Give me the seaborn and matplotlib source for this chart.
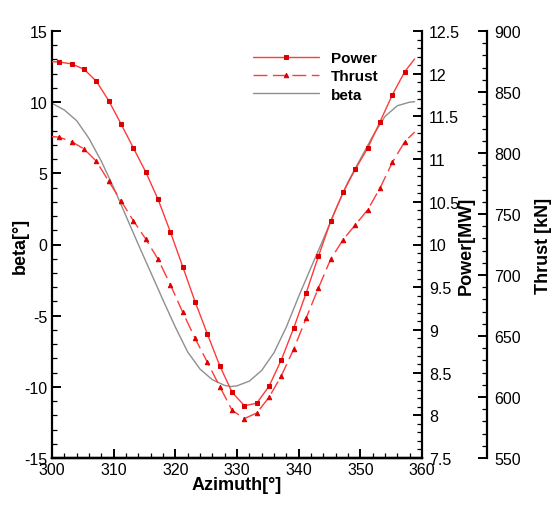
import numpy as np
import pandas as pd
import matplotlib
matplotlib.use("Agg")
import matplotlib.pyplot as plt
from matplotlib.ticker import MultipleLocator, FormatStrFormatter
import seaborn as sns

# ---------------- data ----------------
azimuth = [300, 301.2, 303.2, 305.2, 307.2, 309.2, 311.2, 313.2, 315.2, 317.2,
           319.2, 321.2, 323.2, 325.2, 327.2, 329.2, 331.2, 333.2, 335.2, 337.2,
           339.2, 341.2, 343.2, 345.2, 347.2, 349.2, 351.2, 353.2, 355.2, 357.2, 358.8]
power = [12.14, 12.137, 12.114, 12.052, 11.911, 11.684, 11.411, 11.130, 10.849, 10.529,
         10.146, 9.740, 9.330, 8.952, 8.581, 8.269, 8.112, 8.142, 8.340, 8.651,
         9.022, 9.429, 9.862, 10.272, 10.611, 10.884, 11.130, 11.438, 11.754, 12.023, 12.172]
thrust = [813.5, 812.9, 809.3, 803.3, 793.2, 776.8, 760.7, 744.5, 729.5, 712.9,
          692.0, 669.4, 648.1, 628.4, 608.6, 589.1, 582.3, 586.9, 599.8, 617.5,
          639.3, 664.5, 689.3, 713.1, 728.9, 741.2, 753.5, 771.3, 792.4, 809.3, 817.2]
beta_azimuth = [300, 302, 304, 306, 308, 310, 312, 314, 316, 318, 320, 322, 324, 326,
                328, 329, 330, 332, 334, 336, 338, 340, 342, 344, 346, 348, 350, 352,
                354, 356, 358, 358.8]
beta = [9.92, 9.45, 8.70, 7.45, 5.85, 4.00, 2.00, 0.00, -1.95, -3.90, -5.80, -7.55,
        -8.75, -9.50, -9.90, -9.98, -9.93, -9.60, -8.85, -7.60, -5.80, -3.65, -1.62,
        0.38, 2.45, 4.40, 6.00, 7.60, 9.00, 9.75, 10.00, 10.03]

x_ticks = [300, 310, 320, 330, 340, 350, 360]
beta_ticks = [-15, -10, -5, 0, 5, 10, 15]
power_ticks = [7.5, 8, 8.5, 9, 9.5, 10, 10.5, 11, 11.5, 12, 12.5]
thrust_ticks = [550, 600, 650, 700, 750, 800, 850, 900]

df_pt = pd.DataFrame({"Azimuth": azimuth, "Power": power, "Thrust": thrust})
df_b = pd.DataFrame({"Azimuth": beta_azimuth, "beta": beta})

# ---------------- style ----------------
sns.set_style("ticks")
plt.rcParams["font.family"] = ["Liberation Sans", "DejaVu Sans"]
plt.rcParams["axes.linewidth"] = 1.6
plt.rcParams["axes.unicode_minus"] = False
for k in ("text.color", "axes.labelcolor", "axes.edgecolor", "xtick.color", "ytick.color"):
    plt.rcParams[k] = "black"

W, H = 557, 506
fig = plt.figure(figsize=(W / 100, H / 100), dpi=100)
L, R, T, B = 52, 422, 32, 459
ax = fig.add_axes([L / W, (H - B) / H, (R - L) / W, (B - T) / H])
ax_p = ax.twinx()
ax_t = ax.twinx()
ax_t.spines["right"].set_position(("axes", (487 - L) / (R - L)))

red = "#ff3a3a"
mred = "#dd0000"

sns.lineplot(data=df_b, x="Azimuth", y="beta", ax=ax, color="#8f8f8f", lw=1.0,
             estimator=None, sort=False, label="beta", legend=False)
sns.lineplot(data=df_pt, x="Azimuth", y="Power", ax=ax_p, color=red, lw=1.0,
             marker="s", markersize=3, markerfacecolor=mred, markeredgecolor=mred,
             markevery=list(range(1, len(azimuth) - 1)),
             estimator=None, sort=False, label="Power", legend=False)
sns.lineplot(data=df_pt, x="Azimuth", y="Thrust", ax=ax_t, color=red, lw=1.0,
             marker="^", markersize=3.2, markerfacecolor=mred, markeredgecolor=mred,
             markevery=list(range(1, len(azimuth) - 1)),
             estimator=None, sort=False, label="Thrust", legend=False)
ax_t.lines[-1].set_linestyle((0, (10, 4)))

# ---------------- axes ----------------
ax.set_xlim(300, 360)
ax.set_ylim(-15, 15)
ax_p.set_ylim(7.5, 12.5)
ax_t.set_ylim(550, 900)

ax.set_xticks(x_ticks)
ax.set_yticks(beta_ticks)
ax_p.set_yticks(power_ticks)
ax_t.set_yticks(thrust_ticks)
ax.xaxis.set_minor_locator(MultipleLocator(2))
ax.yaxis.set_minor_locator(MultipleLocator(1))
ax_p.yaxis.set_minor_locator(MultipleLocator(0.1))
ax_t.yaxis.set_minor_locator(MultipleLocator(10))
ax_p.yaxis.set_major_formatter(FormatStrFormatter("%g"))

fs = 11.5
for a in (ax, ax_p, ax_t):
    a.tick_params(which="major", direction="in", length=6.5, width=1.4, labelsize=fs)
    a.tick_params(which="minor", direction="in", length=3.5, width=0.9)
    a.spines["top"].set_visible(False)
ax.tick_params(axis="y", pad=3.5)
ax.tick_params(axis="x", pad=3)
ax.tick_params(axis="x", which="both", top=False)
ax_p.tick_params(axis="y", pad=5)
ax_t.tick_params(axis="y", pad=5)
ax.spines["right"].set_visible(False)
ax_t.spines["left"].set_visible(False)
ax_p.spines["left"].set_visible(False)

lab = dict(fontsize=13, fontweight="bold")
ax.set_xlabel("Azimuth[°]", **lab)
ax.set_ylabel("beta[°]", **lab)
ax_p.set_ylabel("Power[MW]", **lab)
ax_t.set_ylabel("Thrust [kN]", **lab)
ax.xaxis.set_label_coords(0.5, (B - 486) / (B - T))
ax.yaxis.set_label_coords((20 - L) / (R - L), 0.5)
ax_p.yaxis.set_label_coords((466 - L) / (R - L), 0.5)
ax_t.yaxis.set_label_coords((543 - L) / (R - L), 0.5)
for lbl in (ax.xaxis.label, ax.yaxis.label, ax_p.yaxis.label, ax_t.yaxis.label):
    lbl.set_va("center")
    lbl.set_ha("center")

# ---------------- legend ----------------
handles = [ax_p.lines[0], ax_t.lines[0], ax.lines[0]]
labels = ["Power", "Thrust", "beta"]
leg = ax.legend(handles, labels, loc="upper left",
                bbox_to_anchor=((253 - L) / (R - L), (B - 52) / (B - T)),
                frameon=False, borderpad=0, borderaxespad=0,
                handlelength=4.3, handletextpad=0.8, labelspacing=0.28,
                numpoints=1, prop={"weight": "bold", "size": 11})

fig.savefig("out.png", dpi=100)
